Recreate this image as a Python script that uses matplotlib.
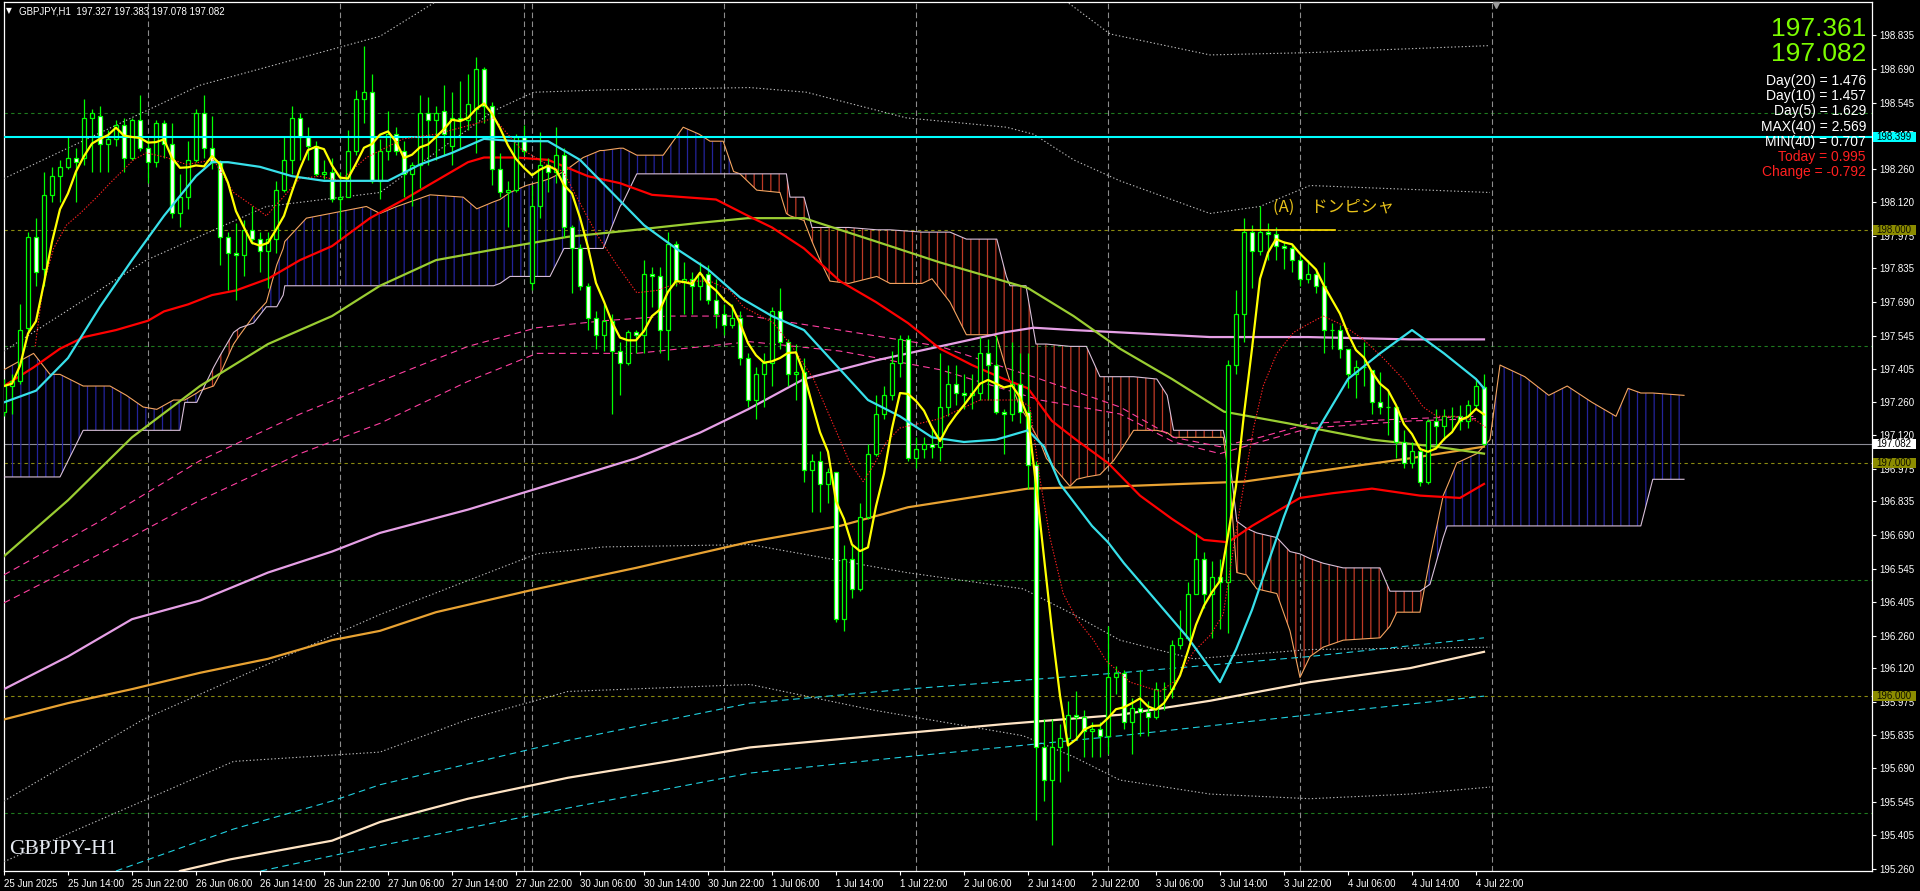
import numpy as np
import pandas as pd
import matplotlib.pyplot as plt
from matplotlib.patches import Rectangle
from matplotlib.transforms import blended_transform_factory

# ---- price data (GBPJPY H1, bar 0 = 25 Jun 06:00) ----
opens = [197.22, 197.33, 197.35, 197.58, 197.97, 197.83, 198.15, 198.23, 198.27, 198.31,
         198.31, 198.48, 198.49, 198.37, 198.39, 198.45, 198.31, 198.47, 198.35, 198.29,
         198.46, 198.37, 198.07, 198.14, 198.30, 198.50, 198.35, 198.29, 197.97, 197.90,
         197.89, 198.00, 197.96, 197.91, 197.96, 198.17, 198.30, 198.48, 198.40, 198.36,
         198.24, 198.25, 198.13, 198.14, 198.34, 198.56, 198.59, 198.21, 198.34, 198.41,
         198.34, 198.24, 198.28, 198.50, 198.47, 198.51, 198.36, 198.48, 198.47, 198.52,
         198.69, 198.53, 198.26, 198.16, 198.17, 198.40, 197.77, 198.10, 198.28, 198.25,
         198.32, 198.01, 197.92, 197.76, 197.62, 197.55, 197.61, 197.48, 197.43, 197.56,
         197.55, 197.81, 197.80, 197.57, 197.94, 197.78, 197.79, 197.76, 197.81, 197.70,
         197.64, 197.59, 197.62, 197.45, 197.27, 197.38, 197.43, 197.65, 197.52, 197.38,
         197.39, 196.97, 197.01, 196.91, 196.96, 196.33, 196.59, 196.46, 196.77, 197.04,
         197.21, 197.29, 197.43, 197.53, 197.02, 197.06, 197.08, 197.07, 197.24, 197.34,
         197.30, 197.29, 197.30, 197.47, 197.42, 197.22, 197.21, 197.34, 197.22, 196.99,
         195.78, 195.64, 195.78, 195.82, 195.92, 195.91, 195.85, 195.86, 195.83, 196.08,
         196.10, 195.89, 195.95, 195.93, 195.91, 196.03, 196.03, 196.22, 196.25, 196.44,
         196.59, 196.44, 196.51, 196.49, 197.42, 197.64, 197.99, 197.91, 197.99, 197.98,
         197.93, 197.92, 197.87, 197.79, 197.81, 197.76, 197.57, 197.57, 197.49, 197.38,
         197.41, 197.40, 197.26, 197.24, 197.24, 197.09, 197.00, 197.05, 196.92, 197.18,
         197.16, 197.20, 197.20, 197.18, 197.25, 197.327]
highs = [197.36, 197.38, 197.68, 197.99, 198.05, 198.25, 198.27, 198.30, 198.40, 198.35,
         198.56, 198.52, 198.53, 198.43, 198.47, 198.48, 198.48, 198.58, 198.39, 198.47,
         198.47, 198.46, 198.24, 198.38, 198.52, 198.58, 198.49, 198.30, 197.99, 198.03,
         198.04, 198.10, 197.99, 197.99, 198.21, 198.40, 198.53, 198.50, 198.44, 198.38,
         198.30, 198.31, 198.25, 198.43, 198.60, 198.79, 198.67, 198.39, 198.51, 198.44,
         198.38, 198.29, 198.58, 198.57, 198.53, 198.62, 198.59, 198.64, 198.67, 198.74,
         198.70, 198.55, 198.33, 198.21, 198.41, 198.45, 198.19, 198.42, 198.31, 198.44,
         198.35, 198.02, 197.94, 197.77, 197.65, 197.68, 197.64, 197.52, 197.57, 197.57,
         197.87, 197.84, 197.84, 197.99, 197.95, 197.86, 197.82, 197.86, 197.85, 197.79,
         197.68, 197.68, 197.65, 197.47, 197.41, 197.47, 197.67, 197.75, 197.53, 197.51,
         197.45, 197.04, 197.05, 196.98, 196.96, 196.65, 196.65, 196.83, 197.08, 197.29,
         197.33, 197.48, 197.55, 197.55, 197.11, 197.11, 197.16, 197.47, 197.42, 197.42,
         197.38, 197.38, 197.54, 197.53, 197.55, 197.23, 197.52, 197.47, 197.47, 197.01,
         195.90, 195.90, 195.88, 195.98, 196.02, 195.94, 195.89, 195.89, 196.30, 196.13,
         196.11, 195.99, 196.11, 195.98, 196.06, 196.06, 196.24, 196.37, 196.49, 196.70,
         196.62, 196.58, 196.59, 197.44, 197.74, 198.05, 198.02, 198.10, 198.03, 198.01,
         197.95, 197.94, 197.89, 197.87, 197.83, 197.86, 197.60, 197.59, 197.49, 197.44,
         197.52, 197.40, 197.39, 197.31, 197.24, 197.14, 197.09, 197.07, 197.19, 197.23,
         197.23, 197.24, 197.25, 197.27, 197.36, 197.383]
lows = [197.20, 197.21, 197.34, 197.56, 197.76, 197.76, 198.12, 198.12, 198.26, 198.12,
        198.28, 198.25, 198.25, 198.25, 198.36, 198.25, 198.30, 198.34, 198.20, 198.27,
        198.31, 198.05, 198.01, 198.09, 198.29, 198.31, 198.26, 197.85, 197.74, 197.70,
        197.80, 197.94, 197.82, 197.75, 197.90, 198.16, 198.24, 198.30, 198.30, 198.23,
        198.22, 198.12, 197.96, 198.14, 198.32, 198.46, 198.20, 198.13, 198.30, 198.32,
        198.14, 198.10, 198.18, 198.28, 198.30, 198.32, 198.28, 198.35, 198.43, 198.33,
        198.46, 198.19, 198.14, 198.01, 198.16, 198.32, 197.74, 198.05, 198.16, 198.20,
        197.97, 197.73, 197.74, 197.57, 197.49, 197.48, 197.21, 197.29, 197.42, 197.47,
        197.47, 197.67, 197.47, 197.44, 197.76, 197.64, 197.64, 197.70, 197.68, 197.58,
        197.55, 197.58, 197.42, 197.24, 197.19, 197.24, 197.33, 197.49, 197.33, 197.27,
        196.92, 196.79, 196.79, 196.83, 196.32, 196.28, 196.42, 196.45, 196.76, 197.03,
        197.19, 197.27, 197.37, 197.01, 196.98, 197.02, 197.02, 197.01, 197.20, 197.25,
        197.23, 197.23, 197.27, 197.27, 197.21, 197.04, 197.18, 197.17, 196.89, 195.47,
        195.55, 195.36, 195.63, 195.68, 195.81, 195.74, 195.74, 195.74, 195.75, 196.01,
        195.86, 195.75, 195.83, 195.83, 195.90, 195.94, 195.99, 196.20, 196.24, 196.44,
        196.38, 196.25, 196.29, 196.27, 197.38, 197.52, 197.75, 197.89, 197.87, 197.87,
        197.83, 197.82, 197.76, 197.77, 197.73, 197.47, 197.49, 197.45, 197.32, 197.28,
        197.33, 197.21, 197.21, 197.12, 197.02, 196.98, 196.98, 196.90, 196.91, 197.07,
        197.10, 197.14, 197.14, 197.15, 197.23, 197.078]
closes = [197.33, 197.35, 197.57, 197.97, 197.82, 198.15, 198.23, 198.27, 198.31, 198.29,
          198.48, 198.50, 198.37, 198.39, 198.45, 198.31, 198.47, 198.35, 198.29, 198.46,
          198.37, 198.07, 198.14, 198.30, 198.50, 198.35, 198.29, 197.97, 197.90, 197.89,
          198.00, 197.96, 197.91, 197.96, 198.17, 198.30, 198.48, 198.40, 198.36, 198.24,
          198.25, 198.13, 198.14, 198.34, 198.56, 198.59, 198.21, 198.34, 198.41, 198.34,
          198.24, 198.28, 198.50, 198.47, 198.50, 198.41, 198.48, 198.47, 198.54, 198.69,
          198.53, 198.26, 198.16, 198.17, 198.40, 198.34, 198.10, 198.28, 198.25, 198.32,
          198.01, 197.92, 197.76, 197.62, 197.55, 197.61, 197.48, 197.43, 197.56, 197.55,
          197.81, 197.80, 197.57, 197.94, 197.78, 197.79, 197.76, 197.81, 197.70, 197.64,
          197.59, 197.62, 197.45, 197.27, 197.38, 197.43, 197.65, 197.52, 197.38, 197.39,
          196.97, 197.01, 196.91, 196.96, 196.33, 196.59, 196.46, 196.77, 197.04, 197.21,
          197.29, 197.43, 197.53, 197.02, 197.06, 197.08, 197.07, 197.24, 197.34, 197.30,
          197.29, 197.30, 197.47, 197.42, 197.22, 197.21, 197.34, 197.22, 196.99, 195.78,
          195.64, 195.78, 195.82, 195.92, 195.91, 195.85, 195.86, 195.83, 196.08, 196.10,
          195.89, 195.95, 195.93, 195.91, 196.03, 196.03, 196.22, 196.25, 196.44, 196.59,
          196.44, 196.51, 196.49, 197.42, 197.64, 197.99, 197.91, 197.99, 197.98, 197.93,
          197.92, 197.87, 197.79, 197.81, 197.76, 197.57, 197.57, 197.49, 197.38, 197.41,
          197.41, 197.26, 197.24, 197.24, 197.09, 197.00, 197.05, 196.92, 197.18, 197.16,
          197.20, 197.20, 197.18, 197.25, 197.33, 197.082]

# ---- indicator lines: (bar index, price) ----
cyan_x = [0, 4, 8, 12, 16, 20, 24, 26, 28, 32, 36, 40, 44, 48, 52, 56, 60, 64, 68, 72, 76, 80,
          84, 88, 92, 96, 100, 104, 108, 112, 116, 120, 124, 128, 130, 132, 136, 138, 140, 144,
          148, 152, 154, 156, 160, 164, 168, 172, 176, 178, 180, 184, 185]
cyan_y = [197.26, 197.31, 197.45, 197.67, 197.87, 198.06, 198.23, 198.29, 198.29, 198.27, 198.23,
          198.21, 198.21, 198.21, 198.28, 198.33, 198.39, 198.38, 198.38, 198.30, 198.16, 198.02,
          197.92, 197.83, 197.71, 197.63, 197.57, 197.42, 197.27, 197.20, 197.11, 197.09, 197.10,
          197.14, 197.07, 196.91, 196.73, 196.66, 196.57, 196.41, 196.25, 196.06, 196.20, 196.37,
          196.77, 197.13, 197.36, 197.47, 197.57, 197.52, 197.47, 197.36, 197.32]

red_x = [0, 3.7, 7, 10, 14, 18, 20, 23, 26, 29, 33, 37, 41, 45.75, 50, 54, 58, 60, 64, 68, 73, 77,
         81, 85, 89, 93, 96, 100, 104.5, 109, 113, 117, 121, 125, 128, 131, 134, 138, 142, 146,
         150, 153, 156, 160, 162, 166, 171, 175, 177, 182, 185]
red_y = [197.33, 197.41, 197.49, 197.54, 197.57, 197.61, 197.65, 197.68, 197.72, 197.74, 197.79,
         197.87, 197.93, 198.05, 198.13, 198.21, 198.29, 198.31, 198.31, 198.30, 198.23, 198.20,
         198.15, 198.14, 198.13, 198.06, 198.01, 197.92, 197.78, 197.69, 197.60, 197.49, 197.42,
         197.36, 197.32, 197.18, 197.10, 197.00, 196.86, 196.76, 196.67, 196.66, 196.73, 196.81,
         196.85, 196.87, 196.89, 196.87, 196.86, 196.85, 196.91]

olive_x = [0, 8, 16, 24.5, 33, 41, 47, 54, 62, 70.5, 79, 87, 93, 100, 109, 117, 125, 128, 133.7,
           139.5, 146, 152.5, 160.5, 171, 179, 185]
olive_y = [196.60, 196.84, 197.11, 197.33, 197.51, 197.63, 197.76, 197.87, 197.92, 197.97, 198.00,
           198.03, 198.05, 198.05, 197.95, 197.86, 197.78, 197.75, 197.63, 197.49, 197.36, 197.22,
           197.17, 197.10, 197.07, 197.04]

pink_x = [0, 8, 16, 24.5, 33, 41, 47, 58, 66.6, 79, 87, 93, 100, 109, 117, 125, 128.7, 133.7,
          139.5, 150.75, 163, 175.75, 185]
pink_y = [196.03, 196.17, 196.33, 196.41, 196.53, 196.62, 196.70, 196.80, 196.89, 197.02, 197.13,
          197.23, 197.36, 197.44, 197.50, 197.56, 197.58, 197.57, 197.56, 197.54, 197.54, 197.53,
          197.53]

orange_x = [0, 8, 16, 24.5, 33, 41, 47, 54, 66.6, 79, 93, 104.5, 113, 128, 139.5, 155, 167.4,
            175.75, 185]
orange_y = [195.90, 195.97, 196.03, 196.10, 196.16, 196.24, 196.28, 196.36, 196.46, 196.55, 196.66,
            196.73, 196.81, 196.89, 196.90, 196.92, 196.98, 197.02, 197.07]

bisque_x = [22, 28.3, 41, 47, 58, 70.5, 83, 93.25, 109, 125, 139.5, 150.75, 163.25, 175.75, 185]
bisque_y = [195.25, 195.30, 195.38, 195.46, 195.56, 195.65, 195.72, 195.78, 195.83, 195.88, 195.92,
            195.98, 196.06, 196.12, 196.19]

cdash1_x = [14, 28.7, 41, 47, 70.5, 93.25, 112.8, 139.5, 163.25, 185]
cdash1_y = [195.25, 195.43, 195.55, 195.62, 195.81, 195.97, 196.03, 196.10, 196.17, 196.25]
cdash2_x = [28, 45.75, 70.5, 93.25, 112.8, 139.5, 163.25, 185]
cdash2_y = [195.22, 195.35, 195.52, 195.67, 195.74, 195.83, 195.92, 196.00]

pdash1_x = [0, 12, 24.5, 37, 47, 58, 66.6, 75, 83, 93.25, 104.5, 117, 129.5, 139.5, 146.2, 152,
            157, 163.25, 175.75, 184]
pdash1_y = [196.52, 196.75, 197.01, 197.21, 197.35, 197.50, 197.58, 197.61, 197.63, 197.63, 197.57,
            197.50, 197.36, 197.24, 197.11, 197.07, 197.11, 197.17, 197.19, 197.20]
pdash2_x = [0, 12, 24.5, 37, 47, 58, 66.6, 79, 93.25, 104.5, 117, 129.5, 139.5, 146.2, 152, 157,
            163.25, 175.75, 184]
pdash2_y = [196.40, 196.61, 196.84, 197.04, 197.17, 197.35, 197.47, 197.47, 197.52, 197.48, 197.40,
            197.27, 197.21, 197.09, 197.04, 197.09, 197.15, 197.18, 197.19]

rdot_x = [3.9, 4.9, 6.2, 7.8, 9.5, 11.6, 13.25, 16.2, 17.8, 20.3, 22.8, 26.2, 28.7, 31.2, 32.8,
          34.9, 37, 39.5, 42, 45.3, 49.9, 54, 59.5, 61.2, 64.5, 67.9, 69.9, 71.6, 74.1, 76.6, 79.1,
          81.6, 83.25, 85.75, 88.25, 90.75, 92.4, 96.2, 98.7, 101.2, 104.1, 105.75, 107.4, 108.7,
          110.3, 112, 117, 122, 127, 128.25, 129.5, 130.75, 132.4, 134.1, 136.2, 137.8, 139.5,
          140.75, 144.5, 146.6, 148.7, 150.75, 152.4, 153.7, 154.9, 156.2, 157.4, 159.1, 161.2,
          163.25, 164.9, 167.4, 169.9, 172.4, 174.9, 177.4, 179.1, 181.6, 184.1, 185.3]
rdot_y = [197.50, 197.76, 197.92, 198.02, 198.07, 198.14, 198.20, 198.30, 198.33, 198.31, 198.28,
          198.30, 198.16, 198.10, 198.06, 198.14, 198.22, 198.23, 198.21, 198.31, 198.39, 198.41,
          198.46, 198.48, 198.35, 198.28, 198.25, 198.14, 197.98, 197.85, 197.73, 197.74, 197.76,
          197.78, 197.78, 197.74, 197.67, 197.60, 197.49, 197.36, 197.13, 197.00, 196.92, 196.99,
          197.09, 197.15, 197.19, 197.27, 197.27, 197.24, 196.93, 196.68, 196.44, 196.33, 196.24,
          196.15, 196.10, 196.06, 196.02, 196.07, 196.19, 196.26, 196.35, 196.64, 196.89, 197.15,
          197.33, 197.47, 197.56, 197.60, 197.63, 197.59, 197.53, 197.45, 197.36, 197.24, 197.20,
          197.20, 197.18, 197.15]

# bollinger-style dotted envelopes
bb3u_x = [0, 24.5, 47, 55, 132, 138.25, 150.75, 163.25, 185.75]
bb3u_y = [198.22, 198.62, 198.83, 199.00, 199.00, 198.84, 198.75, 198.76, 198.79]
bb2u_x = [0, 17.8, 32.8, 47, 61.2, 66.2, 75, 93.25, 100.3, 112.8, 125.3, 128.7, 133.7, 139.5,
          150.75, 157, 163.25, 185.75]
bb2u_y = [197.48, 197.87, 198.10, 198.16, 198.51, 198.59, 198.60, 198.61, 198.59, 198.48, 198.44,
          198.41, 198.30, 198.21, 198.07, 198.10, 198.19, 198.16]
bb2d_x = [0, 17.4, 47, 66.6, 75, 93.25, 112.8, 127.4, 133.7, 139.5, 148.7, 163.25, 185.75]
bb2d_y = [195.55, 195.90, 196.35, 196.61, 196.64, 196.65, 196.53, 196.46, 196.35, 196.24, 196.16,
          196.20, 196.21]
bb3d_x = [0, 28.7, 47, 58, 70.5, 93.25, 108.7, 127.4, 133.7, 139.5, 150.75, 163.25, 175.75, 185.75]
bb3d_y = [195.29, 195.72, 195.76, 195.90, 196.02, 196.05, 195.94, 195.83, 195.74, 195.64, 195.58,
          195.56, 195.58, 195.61]

# ichimoku cloud (span A sandy, span B thistle), shifted 26 bars ahead
cloud_x = [0, 3.7, 5.75, 7, 9.9, 13.25, 15.3, 17.4, 19.1, 21.2, 22, 22.6, 24.1, 24.5, 26.2, 27,
           28.7, 29.5, 31.2, 32.8, 34.1, 34.9, 35.1, 37.8, 45.3, 47, 49.1, 53.25, 57.4, 59.1, 61.2,
           62, 63.25, 65.3, 67.4, 68.25, 70, 72.4, 74.5, 74.9, 77, 77.4, 79.1, 82.4, 84.9, 86.9,
           88.25, 89.9, 91.2, 92, 94.1, 97, 97.8, 98.25, 100, 101, 102, 103.25, 105.6, 109.1,
           110.75, 114.75, 116, 118.25, 120.3, 123.7, 124.1, 125.3, 125.75, 127, 127.75, 129,
           129.5, 130.3, 133.25, 134.1, 135.3, 137, 138.7, 139.9, 141.2, 144.1, 145.4, 146.2,
           152.4, 153.25, 154.1, 155.3, 156.6, 159.1, 160.75, 162, 163.25, 164.9, 167.4, 172,
           173.25, 174.1, 177, 178.25, 179.9, 180.4, 181.6, 184.1, 185.75, 187, 190.1, 193.1,
           195.4, 198.5, 201.5, 203, 204.6, 206.1, 210]
span_a = [197.40, 197.47, 197.38, 197.38, 197.33, 197.33, 197.29, 197.24, 197.23, 197.27, 197.27,
          197.27, 197.30, 197.31, 197.33, 197.38, 197.51, 197.55, 197.63, 197.69, 197.85, 197.92,
          197.95, 198.05, 198.10, 198.07, 198.10, 198.15, 198.14, 198.09, 198.12, 198.13, 198.16,
          198.19, 198.21, 198.22, 198.25, 198.31, 198.34, 198.34, 198.35, 198.35, 198.32, 198.32,
          198.44, 198.41, 198.38, 198.38, 198.25, 198.24, 198.17, 198.16, 198.07, 198.06, 198.04,
          197.95, 197.87, 197.78, 197.77, 197.80, 197.77, 197.77, 197.79, 197.69, 197.55, 197.55,
          197.54, 197.40, 197.35, 197.24, 197.20, 197.12, 197.09, 197.02, 196.90, 196.93, 196.94,
          196.95, 197.01, 197.07, 197.14, 197.14, 197.13, 197.11, 197.11, 196.91, 196.53, 196.52,
          196.46, 196.44, 196.28, 196.08, 196.17, 196.21, 196.24, 196.25, 196.30, 196.36, 196.36,
          196.59, 196.86, 196.90, 197.00, 197.04, 197.10, 197.42, 197.37, 197.29, 197.33, 197.26,
          197.20, 197.32, 197.30, 197.30, 197.29]
span_b = [196.94, 196.94, 196.94, 196.94, 197.14, 197.14, 197.14, 197.14, 197.14, 197.14, 197.14,
          197.26, 197.26, 197.29, 197.41, 197.46, 197.56, 197.58, 197.60, 197.67, 197.67, 197.72,
          197.76, 197.76, 197.76, 197.76, 197.76, 197.76, 197.76, 197.76, 197.76, 197.77, 197.80,
          197.80, 197.80, 197.80, 197.92, 197.92, 197.92, 197.92, 198.10, 198.12, 198.24, 198.24,
          198.24, 198.24, 198.24, 198.24, 198.24, 198.24, 198.24, 198.24, 198.24, 198.14, 198.14,
          198.01, 198.01, 198.01, 198.01, 198.00, 198.00, 197.99, 197.99, 197.99, 197.96, 197.96,
          197.96, 197.80, 197.76, 197.76, 197.76, 197.51, 197.51, 197.51, 197.50, 197.50, 197.50,
          197.37, 197.37, 197.37, 197.37, 197.36, 197.29, 197.14, 197.14, 197.00, 196.75, 196.72,
          196.70, 196.68, 196.62, 196.61, 196.59, 196.57, 196.55, 196.55, 196.45, 196.45, 196.45,
          196.48, 196.68, 196.73, 196.73, 196.73, 196.73, 196.73, 196.73, 196.73, 196.73, 196.73,
          196.73, 196.73, 196.73, 196.93, 196.93]

# ---- axis / labels ----
ytick_vals = [198.835, 198.690, 198.545, 198.405, 198.260, 198.120, 197.975, 197.835, 197.690,
              197.545, 197.405, 197.260, 197.120, 196.975, 196.835, 196.690, 196.545, 196.405,
              196.260, 196.120, 195.975, 195.835, 195.690, 195.545, 195.405, 195.260]
xtick_labels = ['25 Jun 2025', '25 Jun 14:00', '25 Jun 22:00', '26 Jun 06:00', '26 Jun 14:00',
                '26 Jun 22:00', '27 Jun 06:00', '27 Jun 14:00', '27 Jun 22:00', '30 Jun 06:00',
                '30 Jun 14:00', '30 Jun 22:00', '1 Jul 06:00', '1 Jul 14:00', '1 Jul 22:00',
                '2 Jul 06:00', '2 Jul 14:00', '2 Jul 22:00', '3 Jul 06:00', '3 Jul 14:00',
                '3 Jul 22:00', '4 Jul 06:00', '4 Jul 14:00', '4 Jul 22:00']
day_seps = [18, 42, 65, 66, 90, 114, 138, 162, 186]
olive_levels = [198.0, 197.0, 196.0]
green_levels = [198.5, 197.5, 196.5, 195.5]
resistance = 198.399
last_price = 197.082
info_lines = [('Day(20) = 1.476', 'white'), ('Day(10) = 1.457', 'white'), ('Day(5) = 1.629', 'white'),
              ('MAX(40) = 2.569', 'white'), ('MIN(40) = 0.707', 'white'),
              ('Today = 0.995', '#FF2020'), ('Change = -0.792', '#FF2020')]
big_prices = ['197.361', '197.082']
header = 'GBPJPY,H1  197.327 197.383 197.078 197.082'
note_text = '(A)\u3000ドンピシャ'
note_level = 198.0
note_span = (153.9, 166.4)

# ---- figure ----
W, H = 1920, 891
YMIN, YMAX = 195.250, 198.977
plt.rcParams['font.family'] = ['Liberation Sans', 'DejaVu Sans']
fig = plt.figure(figsize=(W / 100, H / 100), dpi=100, facecolor='black')
ax = fig.add_axes([3.5 / W, 20 / H, (1872 - 3.5) / W, 869 / H], facecolor='black')
ax.set_xlim(-0.06, 233.5)
ax.set_ylim(YMIN, YMAX)

for lv in green_levels:
    ax.axhline(lv, color='#1E7A1E', lw=0.8, ls=(0, (3, 3)), zorder=1)
for lv in olive_levels:
    ax.axhline(lv, color='#8A8A10', lw=0.8, ls=(0, (3, 3)), zorder=1)
for d in day_seps:
    ax.axvline(d, color='#8C8C8C', lw=0.8, ls=(0, (5, 3)), zorder=1)
ax.axhline(last_price, color='#8C8C96', lw=0.8, zorder=1)
ax.axhline(resistance, color='#00FFFF', lw=1.5, zorder=6)

# cloud
cx = np.array(cloud_x)
sa = np.array(span_a)
sb = np.array(span_b)
plt.rcParams['hatch.linewidth'] = 0.9
ax.fill_between(cx, sa, sb, where=sa >= sb, interpolate=True, facecolor='none',
                edgecolor='#23239A', hatch='||', linewidth=0, zorder=2)
ax.fill_between(cx, sa, sb, where=sa < sb, interpolate=True, facecolor='none',
                edgecolor='#BE3A26', hatch='||', linewidth=0, zorder=2)
ax.plot(cx, sa, color='#F4A460', lw=0.8, zorder=3)
ax.plot(cx, sb, color='#D8BFD8', lw=0.8, zorder=3)

# envelopes / long averages
dot = (0, (1.2, 2.0))
for xs, ys in [(bb3u_x, bb3u_y), (bb2u_x, bb2u_y), (bb2d_x, bb2d_y), (bb3d_x, bb3d_y)]:
    ax.plot(xs, ys, color='#BEBEBE', lw=0.8, ls=dot, zorder=3)
ax.plot(pdash1_x, pdash1_y, color='#FF3FA0', lw=0.8, ls=(0, (6, 4)), zorder=3)
ax.plot(pdash2_x, pdash2_y, color='#FF3FA0', lw=0.8, ls=(0, (6, 4)), zorder=3)
ax.plot(cdash1_x, cdash1_y, color='#20D0E0', lw=0.8, ls=(0, (6, 4)), zorder=3)
ax.plot(cdash2_x, cdash2_y, color='#20D0E0', lw=0.8, ls=(0, (6, 4)), zorder=3)
ax.plot(bisque_x, bisque_y, color='#FFE4C4', lw=1.6, zorder=3)
ax.plot(orange_x, orange_y, color='#E8A232', lw=1.6, zorder=3)
ax.plot(pink_x, pink_y, color='#E6A0E6', lw=1.6, zorder=3)
ax.plot(olive_x, olive_y, color='#9ACD32', lw=1.6, zorder=3)
ax.plot(red_x, red_y, color='#FF0000', lw=1.6, zorder=3)

# candles
bars = np.arange(len(closes))
o = np.array(opens)
c = np.array(closes)
LIME = '#00FF00'
ax.vlines(bars, lows, highs, color=LIME, lw=0.9, zorder=4)
ax.bar(bars, np.maximum(np.abs(c - o), 0.002), bottom=np.minimum(o, c), width=0.55,
       color=np.where(c >= o, 'black', 'white'), edgecolor=LIME, linewidth=0.9, zorder=5)

ax.plot(rdot_x, rdot_y, color='#FF2020', lw=0.8, ls=(0, (1.2, 1.5)), zorder=6)
ax.plot(cyan_x, cyan_y, color='#38E0EA', lw=1.6, zorder=6)
sma5 = pd.Series(closes).rolling(5, min_periods=1).mean()
ax.plot(bars, sma5, color='#FFFF00', lw=1.6, zorder=7)

# annotation
ax.plot(note_span, [note_level, note_level], color='#FFE000', lw=1.2, zorder=7)
ax.text(158.6, 198.095, note_text, color='#E8C21A', fontsize=12, va='center', ha='left',
        family=['Noto Sans CJK JP', 'DejaVu Sans'], zorder=8)

# axes styling
for s in ax.spines.values():
    s.set_color('white')
    s.set_linewidth(0.9)
ax.yaxis.tick_right()
ax.set_yticks(ytick_vals)
ax.set_yticklabels([f'{v:.3f}' for v in ytick_vals])
ax.set_xticks(np.arange(0, 8 * len(xtick_labels), 8))
ax.set_xticklabels(xtick_labels, ha='left')
ax.tick_params(axis='both', colors='white', labelsize=7, length=3, width=0.8, pad=2)
ax.tick_params(axis='x', pad=3)

# price boxes on the right scale
tr = blended_transform_factory(fig.transFigure, ax.transData)
boxes = [(resistance, '#00FFFF', 'black')] + [(lv, '#8C8C00', '#101000') for lv in olive_levels] + \
        [(last_price, 'white', 'black')]
bh = 10 / 233.2
for val, fc, tc in boxes:
    fig.add_artist(Rectangle((1873 / W, val - bh / 2), 43 / W, bh, transform=tr,
                             facecolor=fc, edgecolor='none', zorder=10))
    fig.text(1876 / W, val, f'{val:.3f}', transform=tr, color=tc, fontsize=7,
             va='center', ha='left', zorder=11)

# info panel
fig.text(1866 / W, 1 - 29 / H, big_prices[0], color='#7CFC00', fontsize=19, ha='right', va='center')
fig.text(1866 / W, 1 - 54 / H, big_prices[1], color='#7CFC00', fontsize=19, ha='right', va='center')
for k, (txt, col) in enumerate(info_lines):
    fig.text(1866 / W, 1 - (81 + 15.2 * k) / H, txt, color=col, fontsize=10, ha='right', va='center')

fig.text(6 / W, 1 - 11 / H, '\u25bc', color='white', fontsize=5.5, va='center',
         family=['DejaVu Sans'])
fig.text(19 / W, 1 - 11 / H, header, color='white', fontsize=7, va='center')
fig.text(9 / W, 1 - 849 / H, 'GBPJPY-H1', color='#E4E8F0', fontsize=15.5, va='center',
         family=['Liberation Serif', 'DejaVu Serif'])
ax.plot([186.5], [YMAX - 0.012], marker='v', color='#9A9A9A', ms=5, zorder=9, clip_on=False)

fig.savefig('out.png', dpi=100, facecolor='black')
